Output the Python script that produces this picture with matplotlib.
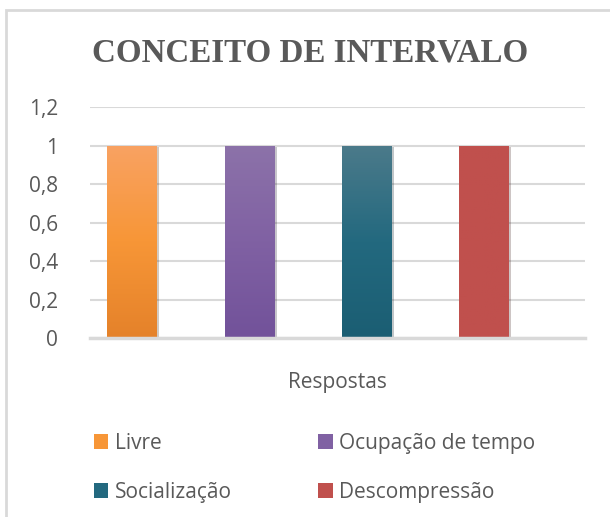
import matplotlib.pyplot as plt
import numpy as np
from matplotlib.colors import LinearSegmentedColormap
from matplotlib.patches import Rectangle, Patch
import matplotlib.patheffects as pe

title = "CONCEITO DE INTERVALO"
series = ["Livre", "Ocupação de tempo", "Socialização", "Descompressão"]
values = [1, 1, 1, 1]
axis_title = "Respostas"
yticks = [0, 0.2, 0.4, 0.6, 0.8, 1, 1.2]
ytick_labels = ["0", "0,2", "0,4", "0,6", "0,8", "1", "1,2"]

# gradient stops (top, middle, bottom) for each bar
grads = [
    ["#F9A262", "#F79637", "#E5822A"],
    ["#8C72A9", "#8061A3", "#72529A"],
    ["#4B7A8A", "#23697F", "#1B5E73"],
    ["#C0504D", "#C0504D", "#C0504D"],
]

txt = "#595959"
grid = "#D9D9D9"
fs = 15

fig = plt.figure(figsize=(6.1, 5.17), dpi=100)
fig.patch.set_facecolor("white")

# chart area border (only left and top visible)
fig.patches.append(Rectangle((6 / 610, -0.1), 1.2, 1 - 10 / 517 + 0.1,
                             transform=fig.transFigure, fill=False,
                             edgecolor=grid, linewidth=2))

ax = fig.add_axes([90 / 610, 1 - 338.3 / 517, 495 / 610, (338.3 - 107.3) / 517])

x = np.arange(len(series))
bars = ax.bar(x, values, width=0.42, color=[g[1] for g in grads], zorder=2,
              path_effects=[pe.SimplePatchShadow(offset=(2, -1), alpha=0.25), pe.Normal()])

for b, g in zip(bars, grads):
    cmap = LinearSegmentedColormap.from_list("g", g[::-1])
    x0, y0 = b.get_x(), b.get_y()
    w, h = b.get_width(), b.get_height()
    im = ax.imshow(np.linspace(0, 1, 100).reshape(-1, 1), cmap=cmap, origin="lower",
                   extent=[x0, x0 + w, y0, y0 + h], aspect="auto", zorder=3)
    im.set_clip_path(b)

ax.set_xlim(-0.358, 3.861)
ax.set_ylim(0, 1.2)
ax.set_yticks(yticks)
ax.set_yticklabels(ytick_labels)
ax.set_xticks([])
ax.grid(axis="y", color=grid, linewidth=1.5, zorder=0)
ax.set_axisbelow(True)
for s in ["top", "right", "left"]:
    ax.spines[s].set_visible(False)
ax.spines["bottom"].set_color(grid)
ax.spines["bottom"].set_linewidth(2.5)
ax.spines["bottom"].set_zorder(4)
ax.tick_params(axis="y", length=0, pad=23, labelsize=fs, labelcolor=txt)
for lab in ax.get_yticklabels():
    lab.set_fontfamily("Open Sans")
ax.set_xlabel(axis_title, fontsize=fs, color=txt, family="Open Sans", labelpad=24)

fig.text(0.508, 1 - 53 / 517, title, ha="center", va="center", fontsize=23.8,
         fontweight="bold", family="Liberation Serif", color=txt)

handles = [Patch(facecolor=g[1], edgecolor="none") for g in grads]
order = [0, 2, 1, 3]
leg = fig.legend([handles[i] for i in order], [series[i] for i in order],
                 ncol=2, loc="upper left", bbox_to_anchor=(75 / 610, 1 - 414 / 517),
                 frameon=False, prop={"family": "Open Sans", "size": fs},
                 handlelength=0.7, handleheight=0.7, handletextpad=0.3,
                 labelspacing=1.35, columnspacing=4.15)
for t in leg.get_texts():
    t.set_color(txt)

fig.savefig("out.png", dpi=100)
